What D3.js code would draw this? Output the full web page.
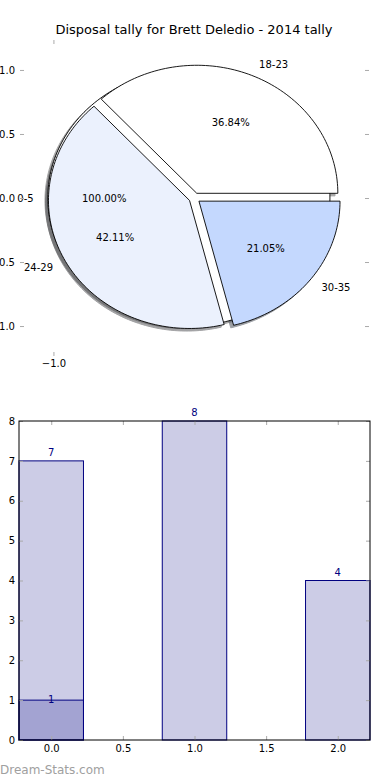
<!DOCTYPE html>
<html>
<head>
<meta charset="utf-8">
<script src="https://cdn.jsdelivr.net/npm/d3@7"></script>
<style>
  body { margin: 0; background: #fff; }
  svg { display: block; font-family: "DejaVu Sans", sans-serif; }
</style>
</head>
<body>
<svg id="chart" width="390" height="780"></svg>
<script>
// pie data
let ageGroups = ["18-23", "24-29", "30-35"];
let disposalCounts = [7, 8, 4];
let juniorGroup = ["0-5"];
let juniorCounts = [1];
let pieYTicks = [1.0, 0.5, 0.0, -0.5, -1.0];
let pieXTicks = [-1.0];

// bar data
let barPositions = [0, 1, 2];
let barValues = [7, 8, 4];
let overlayPositions = [0];
let overlayValues = [1];
let barYTicks = [0, 1, 2, 3, 4, 5, 6, 7, 8];
let barXTicks = [0, 0.5, 1, 1.5, 2];

let titleText = "Disposal tally for Brett Deledio - 2014 tally";

let pieColors = ["#ffffff", "#ebf1fd", "#c4d8fe"];
let juniorColor = "#ffffff";
let tickGray = "#aaaaaa";

let svg = d3.select("svg#chart");

svg.append("text").attr("x", 194).attr("y", 34).attr("text-anchor", "middle")
  .style("font-size", "13px").text(titleText);

// ---------- pie ----------
let px = d3.scaleLinear().domain([-1.237, 1.237]).range([20, 369]);
let py = d3.scaleLinear().domain([-1.234, 1.234]).range([356, 40]);
let explode = 0.04;
let shadowOff = -0.02;

let line = d3.line().x(d => px(d[0])).y(d => py(d[1]));

function wedgePoints(cx, cy, a0, a1, full) {
  let pts = full ? [] : [[cx, cy]];
  let n = Math.max(4, Math.ceil((a1 - a0) / (Math.PI / 120)));
  for (let i = 0; i <= n; i++) {
    let a = a0 + (a1 - a0) * i / n;
    pts.push([cx + Math.cos(a), cy + Math.sin(a)]);
  }
  return pts;
}

let pie = d3.pie().sort(null).startAngle(0).endAngle(2 * Math.PI);

function buildWedges(values, labels, colors) {
  return pie(values).map(function(d, i) {
    let mid = (d.startAngle + d.endAngle) / 2;
    let full = Math.abs(d.endAngle - d.startAngle - 2 * Math.PI) < 1e-9;
    let cx = explode * Math.cos(mid), cy = explode * Math.sin(mid);
    return { mid: mid, full: full, cx: cx, cy: cy, a0: d.startAngle, a1: d.endAngle,
      label: labels[i], color: colors[i], pct: (100 * d.value / d3.sum(values)).toFixed(2) + "%" };
  });
}

let juniorWedges = buildWedges(juniorCounts, juniorGroup, [juniorColor]);
let mainWedges = buildWedges(disposalCounts, ageGroups, pieColors);
let allWedges = juniorWedges.concat(mainWedges);

function shade(c) {
  let col = d3.rgb(c);
  return d3.rgb(col.r * 0.3, col.g * 0.3, col.b * 0.3).toString();
}

let pieG = svg.append("g");
// shadows first
allWedges.forEach(function(w) {
  let p = line(wedgePoints(w.cx + shadowOff, w.cy + shadowOff, w.a0, w.a1, w.full)) + "Z";
  pieG.append("path").attr("d", p).attr("fill", shade(w.color)).attr("stroke", shade(w.color))
    .attr("opacity", 0.5).attr("stroke-width", 1);
});
allWedges.forEach(function(w) {
  let p = line(wedgePoints(w.cx, w.cy, w.a0, w.a1, w.full)) + "Z";
  pieG.append("path").attr("d", p).attr("fill", w.color).attr("stroke", "#000")
    .attr("stroke-width", 0.9).attr("stroke-linejoin", "miter");
});
allWedges.forEach(function(w) {
  let c = Math.cos(w.mid), s = Math.sin(w.mid);
  pieG.append("text").attr("x", px(w.cx + 1.1 * c)).attr("y", py(w.cy + 1.1 * s))
    .attr("text-anchor", c > 0 ? "start" : "end").attr("dominant-baseline", "central")
    .style("font-size", "10px").text(w.label);
  pieG.append("text").attr("x", px(w.cx + 0.6 * c)).attr("y", py(w.cy + 0.6 * s))
    .attr("text-anchor", "middle").attr("dominant-baseline", "central")
    .style("font-size", "10px").text(w.pct);
});

// pie axes (no frame, only ticks)
let fmt = d3.format(".1f");
let pyLeft = svg.append("g").attr("transform", "translate(20,0)")
  .call(d3.axisLeft(py).tickValues(pieYTicks).tickFormat(fmt).tickSize(-4).tickPadding(5));
let pyRight = svg.append("g").attr("transform", "translate(369,0)")
  .call(d3.axisRight(py).tickValues(pieYTicks).tickFormat("").tickSize(-4));
let pxTop = svg.append("g").attr("transform", "translate(0,40)")
  .call(d3.axisTop(px).tickValues(pieXTicks).tickFormat("").tickSize(-4));
let pxBottom = svg.append("g").attr("transform", "translate(0,356)")
  .call(d3.axisBottom(px).tickValues(pieXTicks).tickFormat(fmt).tickSize(-4).tickPadding(4));
[pyLeft, pyRight, pxTop, pxBottom].forEach(function(g) {
  g.select(".domain").remove();
  g.selectAll("line").attr("stroke", tickGray);
  g.selectAll("text").attr("fill", "#000").style("font-size", "10px").style("font-family", "DejaVu Sans");
});

// ---------- bars ----------
let barWidth = 0.45;
let bx = d3.scaleLinear().domain([-0.225, 2.225]).range([19, 370]);
let by = d3.scaleLinear().domain([0, 8]).range([740, 421]);

let barG = svg.append("g");
function drawBars(positions, values) {
  positions.forEach(function(p, i) {
    barG.append("rect")
      .attr("x", bx(p - barWidth / 2)).attr("y", by(values[i]))
      .attr("width", bx(p + barWidth / 2) - bx(p - barWidth / 2))
      .attr("height", by(0) - by(values[i]))
      .attr("fill", "#000080").attr("fill-opacity", 0.2)
      .attr("stroke", "#000080").attr("stroke-width", 1);
  });
}
drawBars(barPositions, barValues);
drawBars(overlayPositions, overlayValues);

barPositions.forEach(function(p, i) {
  barG.append("text").attr("x", bx(p)).attr("y", by(barValues[i]) - 5)
    .attr("text-anchor", "middle").attr("fill", "#000080").style("font-size", "10px")
    .text(barValues[i]);
});
overlayPositions.forEach(function(p, i) {
  barG.append("text").attr("x", bx(p)).attr("y", by(overlayValues[i]) - 1)
    .attr("text-anchor", "middle").attr("dominant-baseline", "central")
    .attr("fill", "#000080").style("font-size", "10px").text(overlayValues[i]);
});

let byLeft = svg.append("g").attr("transform", "translate(19,0)")
  .call(d3.axisLeft(by).tickValues(barYTicks).tickFormat(d3.format("d")).tickSize(-4).tickPadding(4));
let byRight = svg.append("g").attr("transform", "translate(370,0)")
  .call(d3.axisRight(by).tickValues(barYTicks).tickFormat("").tickSize(-4));
let bxTop = svg.append("g").attr("transform", "translate(0,421)")
  .call(d3.axisTop(bx).tickValues(barXTicks).tickFormat("").tickSize(-4));
let bxBottom = svg.append("g").attr("transform", "translate(0,740)")
  .call(d3.axisBottom(bx).tickValues(barXTicks).tickFormat(fmt).tickSize(-4).tickPadding(5));
[byLeft, byRight, bxTop, bxBottom].forEach(function(g) {
  g.select(".domain").remove();
  g.selectAll("line").attr("stroke", tickGray);
  g.selectAll("text").attr("fill", "#000").style("font-size", "10px").style("font-family", "DejaVu Sans");
});

svg.append("rect").attr("x", 19).attr("y", 421).attr("width", 351).attr("height", 319)
  .attr("fill", "none").attr("stroke", "#000").attr("stroke-width", 1);

svg.append("text").attr("x", 0).attr("y", 774).attr("fill", "#a0a0a0")
  .style("font-size", "12px").text("Dream-Stats.com");
</script>
</body>
</html>
